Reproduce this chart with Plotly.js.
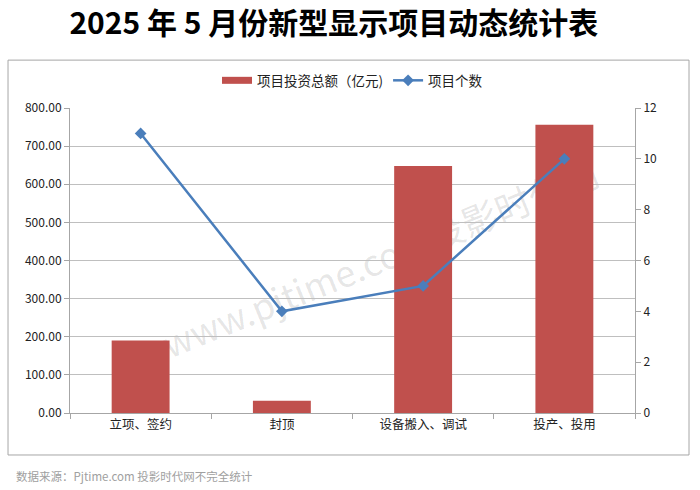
<!DOCTYPE html>
<html>
<head>
<meta charset="utf-8">
<script src="https://cdn.plot.ly/plotly-3.0.1.min.js"></script>
<style>html,body{margin:0;padding:0;background:#fff;}#chart{width:700px;height:490px;}</style>
</head>
<body>
<div id="chart"></div>
<script>
const categories = ["立项、签约", "封顶", "设备搬入、调试", "投产、投用"];
const investment = [190, 32, 648, 756];
const projectCount = [11, 4, 5, 10];
const seriesNames = ["项目投资总额（亿元)", "项目个数"];
const titleText = "2025 年 5 月份新型显示项目动态统计表";
const sourceText = "数据来源：Pjtime.com 投影时代网不完全统计";
const watermarkText = "www.pjtime.com投影时代网";

const cjk = '"Noto Sans CJK SC", "Open Sans", sans-serif';
const barColor = "#C0504D";
const lineColor = "#4A7EBB";

const traces = [
  {
    type: "bar",
    name: seriesNames[0],
    x: categories,
    y: investment,
    marker: {color: barColor},
    width: 0.41,
    yaxis: "y",
    showlegend: false
  },
  {
    type: "scatter",
    mode: "lines",
    name: seriesNames[0],
    x: [null],
    y: [null],
    line: {color: barColor, width: 7},
    yaxis: "y",
    showlegend: true
  },
  {
    type: "scatter",
    mode: "lines+markers",
    name: seriesNames[1],
    x: categories,
    y: projectCount,
    line: {color: lineColor, width: 2.5},
    marker: {symbol: "diamond", size: 9, color: lineColor},
    yaxis: "y2"
  }
];

const layout = {
  width: 700,
  height: 490,
  margin: {l: 70, r: 65, t: 108, b: 77},
  paper_bgcolor: "#fff",
  plot_bgcolor: "rgba(0,0,0,0)",
  font: {family: cjk, size: 12, color: "#222"},
  title: {
    text: "<b>" + titleText + "</b>",
    font: {family: cjk, size: 30, color: "#000"},
    x: 0.477, xanchor: "center",
    y: 0.952, yanchor: "middle", yref: "container"
  },
  showlegend: true,
  legend: {
    orientation: "h",
    x: 0.5, xanchor: "center",
    y: 1.09, yanchor: "middle",
    font: {family: cjk, size: 13.5, color: "#222"},
    itemwidth: 30,
    traceorder: "normal"
  },
  xaxis: {
    type: "category",
    showline: true,
    linecolor: "#A6A6A6",
    linewidth: 1,
    ticks: "outside",
    tickson: "boundaries",
    ticklen: 5,
    tickcolor: "#A6A6A6",
    tickfont: {family: cjk, size: 12.5, color: "#222"},
    showgrid: false,
    zeroline: false
  },
  yaxis: {
    range: [0, 800],
    dtick: 100,
    tickformat: ".2f",
    showline: true,
    linecolor: "#A6A6A6",
    ticks: "outside",
    ticklen: 5,
    tickcolor: "#A6A6A6",
    showgrid: true,
    gridcolor: "#BFBFBF",
    gridwidth: 1,
    zeroline: false,
    tickfont: {family: cjk, size: 12, color: "#222"}
  },
  yaxis2: {
    range: [0, 12],
    dtick: 2,
    overlaying: "y",
    side: "right",
    showline: true,
    linecolor: "#A6A6A6",
    ticks: "outside",
    ticklen: 5,
    tickcolor: "#A6A6A6",
    showgrid: false,
    zeroline: false,
    tickfont: {family: cjk, size: 12, color: "#222"}
  },
  bargap: 0.59,
  shapes: [
    {
      type: "rect", xref: "paper", yref: "paper",
      x0: -0.1097, x1: 1.0956, y0: -0.1377, y1: 1.157,
      line: {color: "#A6A6A6", width: 1},
      fillcolor: "rgba(0,0,0,0)",
      layer: "below"
    },
    {
      type: "line", xref: "paper", yref: "paper",
      x0: 0.201, y0: 0.232, x1: 0.903, y1: 0.756,
      line: {color: "rgba(0,0,0,0)", width: 0},
      layer: "below",
      label: {
        text: watermarkText,
        textposition: "middle",
        textangle: -22,
        yanchor: "middle",
        font: {family: cjk, size: 36, color: "rgba(0,0,0,0.11)"}
      }
    }
  ],
  annotations: [
    {
      text: sourceText,
      xref: "paper", yref: "paper",
      x: -0.1, y: -0.205,
      xanchor: "left", yanchor: "middle",
      showarrow: false,
      font: {family: cjk, size: 11.5, color: "#A0A0A0"}
    }
  ]
};

Plotly.newPlot("chart", traces, layout, {displayModeBar: false, staticPlot: true});
</script>
</body>
</html>
